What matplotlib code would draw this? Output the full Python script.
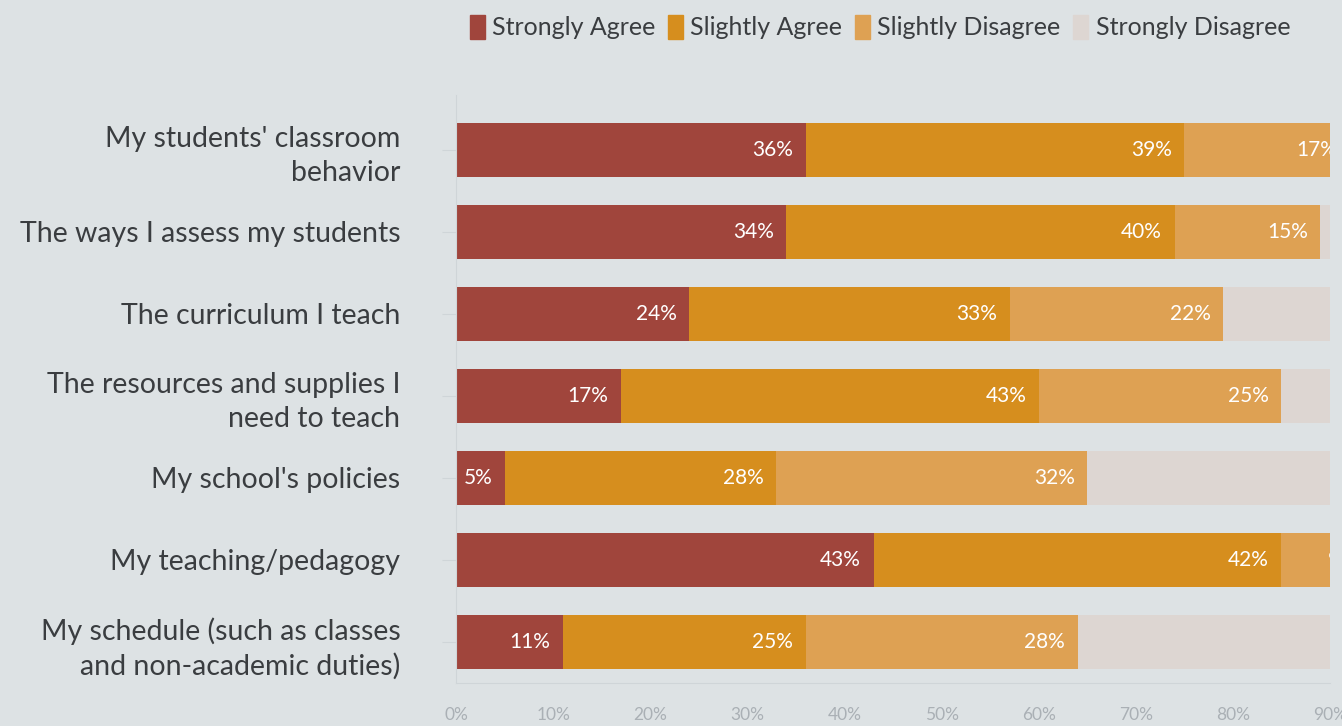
import numpy as np
import matplotlib.pyplot as plt
from matplotlib.patches import Patch

categories = [
    "My students' classroom\nbehavior",
    "The ways I assess my students",
    "The curriculum I teach",
    "The resources and supplies I\nneed to teach",
    "My school's policies",
    "My teaching/pedagogy",
    "My schedule (such as classes\nand non-academic duties)",
]
series_names = ["Strongly Agree", "Slightly Agree", "Slightly Disagree", "Strongly Disagree"]
strongly_agree = [36, 34, 24, 17, 5, 43, 11]
slightly_agree = [39, 40, 33, 43, 28, 42, 25]
slightly_disagree = [17, 15, 22, 25, 32, 9, 28]
strongly_disagree = [8, 11, 21, 15, 35, 6, 36]
xticks = [0, 10, 20, 30, 40, 50, 60, 70, 80, 90]

colors = ["#a0453c", "#d68e1e", "#dea153", "#ddd6d2"]
bg = "#dde2e4"

plt.rcParams['font.family'] = ['Lato', 'DejaVu Sans']

fig = plt.figure(figsize=(13.42, 7.26), dpi=100, facecolor=bg)
ax = fig.add_axes([456 / 1342, 1 - 683 / 726, (1330 - 456) / 1342, (683 - 95) / 726])
ax.set_facecolor(bg)

y = np.arange(len(categories))
left = np.zeros(len(categories))
for name, vals, c in zip(series_names,
                         [strongly_agree, slightly_agree, slightly_disagree, strongly_disagree],
                         colors):
    vals = np.array(vals, dtype=float)
    ax.barh(y, vals, left=left, height=0.65, color=c, label=name)
    for yi, l, v in zip(y, left, vals):
        ax.annotate(f"{int(v)}%", (l + v, yi), xytext=(-9, 0), textcoords="offset points",
                    ha="right", va="center", color="white", fontsize=15,
                    annotation_clip=False, clip_on=True)
    left += vals

ax.set_xlim(0, 90)
ax.set_ylim(6.5, -0.67)
ax.set_xticks(xticks)
ax.set_xticklabels([f"{v}%" for v in xticks])
ax.set_yticks(y)
ax.set_yticklabels(categories, fontsize=20.5, color="#3a3d40", linespacing=1.35)
ax.tick_params(axis="x", length=0, pad=17, labelsize=12.5, labelcolor="#aab0b5")
ax.tick_params(axis="y", length=10, color="#cfd5d8", pad=30)
for s in ["top", "right"]:
    ax.spines[s].set_visible(False)
ax.spines["left"].set_color("#cfd5d8")
ax.spines["bottom"].set_color("#cfd5d8")

handles = [Patch(color=c) for c in colors]
fig.legend(handles, series_names, loc="center", bbox_to_anchor=(880 / 1342, 1 - 27 / 726),
           ncol=4, frameon=False, fontsize=18, labelcolor="#3a3d40",
           handlelength=0.6, handleheight=1.1, handletextpad=0.3, columnspacing=0.5)

fig.savefig("out.png", dpi=100, facecolor=bg)
